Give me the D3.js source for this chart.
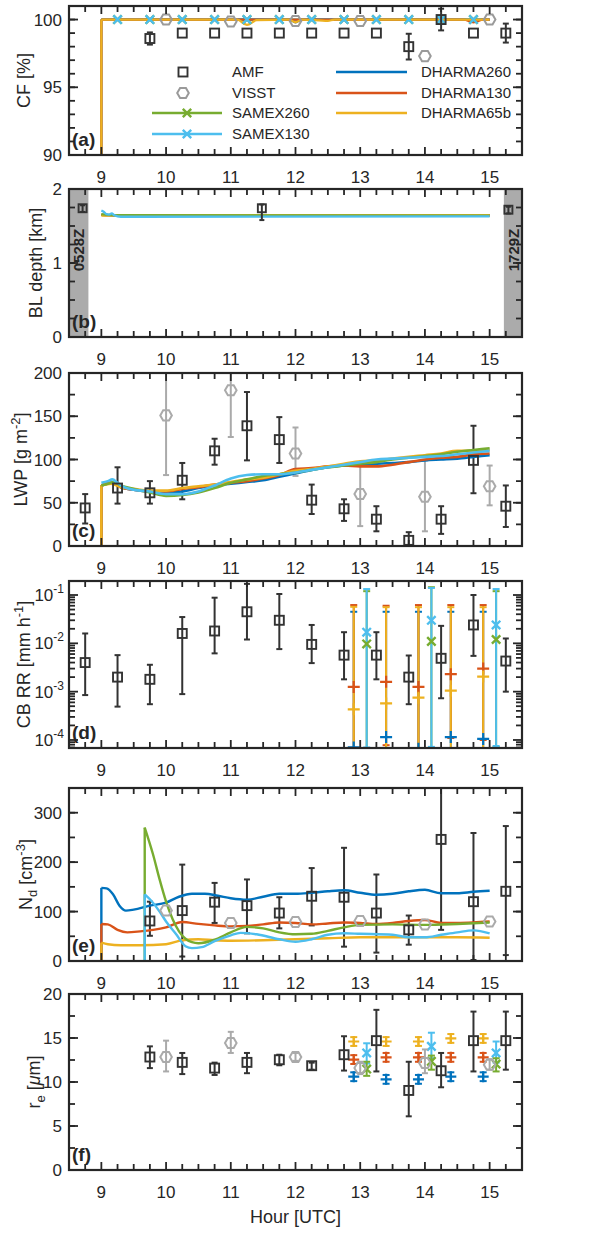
<!DOCTYPE html>
<html><head><meta charset="utf-8">
<script src="https://cdn.jsdelivr.net/npm/d3@7"></script>
<style>
body{margin:0;background:#fff}
svg{display:block}
text{font-family:"Liberation Sans",Arial,Helvetica,sans-serif;fill:#262626}
</style></head>
<body><svg id="c" width="605" height="1233"></svg>
<script>
// ---------------- DATA ----------------
const hourTicks = [9,10,11,12,13,14,15];
const seriesNames = ["AMF","VISST","SAMEX260","SAMEX130","DHARMA260","DHARMA130","DHARMA65b"];
const seriesColors = ["#333333","#9a9a9a","#77AC30","#4DBEEE","#0072BD","#D95319","#EDB120"];

// (a) cloud fraction
const cfTicks = [90,95,100];
const cfAmfT = [9.75,10.25,10.75,11.25,11.75,12.25,12.75,13.25,13.75,14.25,14.75,15.25];
const cfAmf = [98.6,99,99,99,99,99,99,99,98.0,100,99,99];
const cfAmfErr = [0.45,0.1,0.1,0.1,0.1,0.1,0.1,0.1,0.95,0.8,0.1,0.7];
const cfVisstT = [10,11,12,13,14,15];
const cfVisst = [100,99.85,99.9,99.9,97.3,100];
const cfMarkT = [9.25,9.75,10.25,10.75,11.25,11.75,12.25,12.75,13.25,13.75,14.25,14.75];
const cfD260 = [[9,90],[9,100],[11.9,100],[12,99.8],[12.1,100],[15,100]];
const cfD130 = [[9,90],[9,100],[14.6,100],[14.75,99.8],[14.9,100],[15,100]];
const cfD65 = [[9,90],[9,100],[11.1,100],[11.25,99.6],[11.4,99.95],[11.9,100],[12,99.8],[12.1,100],[12.5,99.9],[12.6,100],[15,100]];
const cfS260 = [[9,100],[15,100]];
const cfS130 = [[9,100],[15,100]];

// (b) BL depth
const blTicks = [0,1,2];
const blShade = [[8.5,8.8],[15.22,15.5]];
const blShadeLabels = ["0528Z","1729Z"];
const blAmfT = [8.71,11.48,15.29];
const blAmf = [1.74,1.74,1.72];
const blAmfHi = [1.78,1.79,1.76];
const blAmfLo = [1.69,1.58,1.67];
const blD260 = [[9,1.65],[9.2,1.645],[15,1.645]];
const blD130 = [[9,1.65],[9.2,1.645],[15,1.645]];
const blD65 = [[9,1.64],[9.2,1.645],[15,1.645]];
const blS260 = [[9,1.66],[9.2,1.645],[15,1.64]];
const blS130 = [[9,1.71],[9.04,1.69],[9.08,1.66],[9.12,1.655],[9.16,1.67],[9.2,1.645],[9.3,1.625],[9.6,1.625],[15,1.63]];

// (c) LWP
const lwpTicks = [0,50,100,150,200];
const amfT = [8.75,9.25,9.75,10.25,10.75,11.25,11.75,12.25,12.75,13.25,13.75,14.25,14.75,15.25];
const lwpAmf = [44,67,61.5,76,110,139,123,53,43,31,6.5,31,99,46];
const lwpAmfHi = [60,91,75,96,124,178,149,71,54,46,16,46,139,70];
const lwpAmfLo = [26,49,49,54,94,99,96,37,29,17,0,14,61,22];
const visstT = [10,11,12,13,14,15];
const lwpVisst = [151,180,107,60,57,69];
const lwpVisstHi = [220,235,137,97,99,93];
const lwpVisstLo = [82,126,81,23,17,47];
const lwpD260 = [[9,0],[9,70],[9.15,73],[9.3,68],[9.5,65],[9.75,63],[10,62],[10.25,63],[10.5,67],[10.75,70],[11,72],[11.25,74],[11.5,76],[11.75,80],[12,84],[12.25,88],[12.5,91],[12.75,93],[13,94],[13.25,95],[13.5,96],[13.75,97],[14,99],[14.25,100],[14.5,101],[14.75,103],[15,105]];
const lwpD130 = [[9,0],[9,70],[9.15,73],[9.3,68],[9.5,65],[9.75,63],[10,63],[10.25,66],[10.5,68],[10.75,71],[11,73],[11.25,75],[11.5,78],[11.75,82],[12,89],[12.25,90],[12.5,92],[12.75,93],[13,92],[13.25,92],[13.5,94],[13.75,97],[14,100],[14.25,102],[14.5,103],[14.75,106],[15,107]];
const lwpD65 = [[9,0],[9,70],[9.15,72],[9.3,68],[9.5,66],[9.75,64],[10,64],[10.25,67],[10.5,69],[10.75,71],[11,74],[11.25,77],[11.5,79],[11.75,83],[12,87],[12.25,89],[12.5,92],[12.75,95],[13,98],[13.25,99],[13.5,101],[13.75,103],[14,105],[14.25,107],[14.5,110],[14.75,110],[15,111]];
const lwpS260 = [[9,70],[9.1,72],[9.2,74],[9.3,70],[9.5,66],[9.75,62],[10,58],[10.25,59],[10.5,62],[10.75,67],[11,73],[11.25,77],[11.5,81],[11.75,83],[12,85],[12.25,88],[12.5,91],[12.75,93],[13,95],[13.25,97],[13.5,100],[13.75,102],[14,104],[14.25,106],[14.5,109],[14.75,111],[15,113]];
const lwpS130 = [[9,73],[9.1,75],[9.17,77],[9.25,73],[9.35,68],[9.5,65],[9.75,63],[10,60],[10.25,60],[10.5,63],[10.75,70],[11,78],[11.25,82],[11.5,83],[11.75,83],[12,85],[12.25,88],[12.5,91],[12.75,94],[13,97],[13.25,100],[13.5,101],[13.75,102],[14,103],[14.25,104],[14.5,106],[14.75,108],[15,110]];

// (d) cloud-base rain rate
const rrTickExps = [-4,-3,-2,-1];
const rrAmf = [4.0e-3,2.0e-3,1.8e-3,1.6e-2,1.8e-2,4.5e-2,3.0e-2,9.5e-3,5.7e-3,5.7e-3,2.0e-3,4.9e-3,2.4e-2,4.3e-3];
const rrAmfHi = [1.6e-2,5.7e-3,3.6e-3,3.5e-2,8.8e-2,1.7e-1,1.05e-1,2.4e-2,1.7e-2,1.7e-2,5.6e-3,2.3e-2,1.0e-1,1.26e-2];
const rrAmfLo = [8.5e-4,4.9e-4,5.5e-4,8.9e-4,6.2e-3,1.2e-2,7.6e-3,3.9e-3,1.8e-3,1.8e-3,5.5e-4,7.3e-4,5.5e-3,1.0e-3];
const dharmaT = [12.9,13.4,13.9,14.4,14.9];
const rrD260 = [7.0e-5,1.15e-4,6.6e-5,1.15e-4,1.05e-4];
const rrD260Hi = [4.5e-2,4.5e-2,4.5e-2,4.5e-2,4.5e-2];
const rrD260Lo = [1e-6,1e-6,1e-6,1e-6,1e-6];
const rrD130 = [1.25e-3,1.6e-3,1.25e-3,2.3e-3,3.0e-3];
const rrD130Hi = [6.2e-2,6.0e-2,6.2e-2,6.2e-2,6.2e-2];
const rrD130Lo = [4e-5,7.8e-5,4e-5,1.1e-4,1.0e-4];
const rrD65 = [4.3e-4,5.7e-4,7.5e-4,1.05e-3,2.05e-3];
const rrD65Hi = [5.7e-2,5.6e-2,5.6e-2,5.6e-2,5.6e-2];
const rrD65Lo = [1e-6,1e-6,1e-6,1e-6,1e-6];
const samexT = [13.1,14.1,15.1];
const rrS260 = [9.7e-3,1.1e-2,1.2e-2];
const rrS260Hi = [0.12,0.145,0.12];
const rrS260Lo = [6.8e-5,1e-6,7.2e-5];
const rrS130 = [1.7e-2,3.0e-2,2.4e-2];
const rrS130Hi = [0.133,0.14,0.133];
const rrS130Lo = [7.0e-5,7.2e-5,7.5e-5];

// (e) droplet number
const ndTicks = [0,100,200,300];
const ndAmfT = [9.75,10.25,10.75,11.25,11.75,12.25,12.75,13.25,13.75,14.25,14.75,15.25];
const ndAmf = [81,102,119,112,97,131,129,97,63,246,120,141];
const ndAmfHi = [120,195,158,165,129,188,229,175,92,430,259,273];
const ndAmfLo = [51,9,77,56,66,72,29,17,33,63,2,12];
const ndVisst = [102,77,79,81,74,80];
const ndD260 = [[9,0],[9,148],[9.08,147],[9.18,135],[9.28,112],[9.38,102],[9.5,104],[9.75,112],[10,118],[10.2,130],[10.4,136],[10.6,136],[10.8,132],[11,127],[11.25,124],[11.5,130],[11.75,136],[12,136],[12.25,138],[12.5,141],[12.75,143],[13,138],[13.25,134],[13.5,136],[13.75,141],[14,144],[14.25,137],[14.5,137],[14.75,140],[15,142]];
const ndD130 = [[9,0],[9,75],[9.1,74],[9.25,63],[9.4,58],[9.6,60],[9.8,63],[10,68],[10.25,79],[10.5,75],[10.75,72],[11,70],[11.25,71],[11.5,74],[11.75,78],[12,77],[12.25,74],[12.5,76],[12.75,78],[13,77],[13.25,75],[13.5,77],[13.75,81],[14,83],[14.25,77],[14.5,77],[14.75,78],[15,80]];
const ndD65 = [[9,0],[9,37],[9.1,34],[9.3,32],[9.6,32],[10,34],[10.25,42],[10.5,44],[10.75,42],[11,41],[11.5,42],[12,44],[12.5,46],[13,48],[13.5,48],[14,48],[14.5,48],[15,47]];
const ndS260 = [[9.67,0],[9.67,270],[9.8,215],[9.9,165],[10,120],[10.1,85],[10.2,60],[10.3,45],[10.4,38],[10.5,36],[10.75,43],[11,58],[11.25,69],[11.5,66],[11.75,58],[12,54],[12.25,55],[12.5,61],[12.75,68],[13,73],[13.5,74],[14,73],[14.5,75],[15,78]];
const ndS130 = [[9.67,0],[9.67,135],[9.75,125],[9.9,100],[10,80],[10.15,55],[10.3,30],[10.4,26],[10.55,28],[10.75,40],[11,52],[11.15,57],[11.4,54],[11.75,44],[12,39],[12.25,44],[12.5,53],[12.75,56],[13,55],[13.5,53],[13.75,48],[14,48],[14.25,53],[14.5,58],[14.75,62],[15,56]];

// (f) effective radius
const reTicks = [0,5,10,15,20];
const reAmf = [12.84,12.23,11.58,12.23,12.53,11.85,13.1,14.7,9.04,11.28,14.7,14.7];
const reAmfHi = [14.05,13.3,12.2,13.3,13.1,12.2,15.2,18.2,12.3,13.3,18.0,18.0];
const reAmfLo = [11.58,10.9,10.8,11.0,11.9,11.4,11.3,11.2,6.1,9.4,11.2,11.4];
const reVisst = [12.84,14.43,12.84,11.58,12.15,11.96];
const reVisstHi = [14.7,15.7,13.3,12.3,13.7,12.6];
const reVisstLo = [11.2,13.3,12.4,10.9,11.0,11.4];
const reD65 = [14.6,14.6,14.6,14.95,14.95];
const reD130 = [12.55,12.8,12.8,12.8,12.8];
const reD260 = [10.6,10.3,10.3,10.6,10.6];
const reDErr = [0.5,0.5,0.5,0.5,0.5];
const reS130 = [13.3,14.05,13.3];
const reS130Hi = [14.4,15.6,14.6];
const reS130Lo = [12.1,12.7,12.2];
const reS260 = [11.47,12.34,12.04];
const reS260Hi = [12.3,13.0,12.7];
const reS260Lo = [10.7,11.4,11.2];

// ---------------- DRAWING ----------------
const C = {}; seriesNames.forEach((n,i)=>C[n]=seriesColors[i]);
const svg = d3.select("#c");
const X0 = 69, X1 = 522;
const x = d3.scaleLinear().domain([8.5,15.5]).range([X0,X1]);
const AX = "#262626";

const panels = {
  a:{top:6,bottom:155,y:d3.scaleLinear().domain([90,101]).range([155,6]),major:cfTicks,minor:d3.range(90,101.001,1),lx:24},
  b:{top:189,bottom:337,y:d3.scaleLinear().domain([0,2]).range([337,189]),major:blTicks,minor:d3.range(0,2.001,0.25),lx:36},
  c:{top:373,bottom:546,y:d3.scaleLinear().domain([0,200]).range([546,373]),major:lwpTicks,minor:d3.range(0,200.1,25),lx:21},
  d:{top:581,bottom:748,y:d3.scaleLog().domain([Math.pow(10,-4.166),Math.pow(10,-0.71)]).range([748,581]),log:true,lx:24},
  e:{top:788,bottom:961,y:d3.scaleLinear().domain([0,350]).range([961,788]),major:ndTicks,minor:d3.range(0,350.1,50),lx:26},
  f:{top:994,bottom:1170,y:d3.scaleLinear().domain([0,20]).range([1170,994]),major:reTicks,minor:d3.range(0,20.01,2.5),lx:34}
};

const defs = svg.append("defs");
Object.entries(panels).forEach(([k,p])=>{
  defs.append("clipPath").attr("id","clip-"+k).append("rect")
    .attr("x",X0).attr("y",p.top).attr("width",X1-X0).attr("height",p.bottom-p.top);
  p.g = svg.append("g");
  p.data = p.g.append("g").attr("clip-path",`url(#clip-${k})`);
});

function drawLine(g, pts, y, color, w=2.3){
  let rest = pts;
  if(pts.length>1 && pts[0][0]===pts[1][0]){
    g.append("line").attr("x1",x(pts[0][0])).attr("x2",x(pts[1][0]))
      .attr("y1",y(pts[0][1])).attr("y2",y(pts[1][1]))
      .attr("stroke",color).attr("stroke-width",w);
    rest = pts.slice(1);
  }
  const ln = d3.line().x(d=>x(d[0])).y(d=>y(d[1])).curve(d3.curveMonotoneX);
  g.append("path").attr("d",ln(rest)).attr("fill","none").attr("stroke",color)
    .attr("stroke-width",w).attr("stroke-linejoin","round");
}
function errBar(g, t, lo, hi, y, color, cap=3, w=2){
  const xx = x(t);
  g.append("line").attr("x1",xx).attr("x2",xx).attr("y1",y(lo)).attr("y2",y(hi))
    .attr("stroke",color).attr("stroke-width",w);
  [lo,hi].forEach(v=>g.append("line").attr("x1",xx-cap).attr("x2",xx+cap)
    .attr("y1",y(v)).attr("y2",y(v)).attr("stroke",color).attr("stroke-width",w));
}
function square(g, cx, cy, color, s=9){
  g.append("rect").attr("x",cx-s/2).attr("y",cy-s/2).attr("width",s).attr("height",s)
    .attr("fill","none").attr("stroke",color).attr("stroke-width",1.9);
}
function hexagon(g, cx, cy, color, r=5.8){
  const pts = d3.range(6).map(i=>{const a=i*Math.PI/3;return [cx+r*Math.cos(a),cy+r*Math.sin(a)];});
  g.append("polygon").attr("points",pts.map(p=>p.join(",")).join(" "))
    .attr("fill","none").attr("stroke",color).attr("stroke-width",2);
}
function plus(g, cx, cy, color, s=6){
  g.append("path").attr("d",`M${cx-s},${cy}H${cx+s}M${cx},${cy-s}V${cy+s}`)
    .attr("stroke",color).attr("stroke-width",2.2).attr("fill","none");
}
function cross(g, cx, cy, color, s=4.2){
  g.append("path").attr("d",`M${cx-s},${cy-s}L${cx+s},${cy+s}M${cx-s},${cy+s}L${cx+s},${cy-s}`)
    .attr("stroke",color).attr("stroke-width",2.4).attr("fill","none");
}

// ---------- panel a ----------
{
  const p = panels.a, g = p.data, y = p.y;
  [[cfS260,C.SAMEX260],[cfS130,C.SAMEX130],[cfD260,C.DHARMA260],[cfD130,C.DHARMA130],[cfD65,C.DHARMA65b]]
    .forEach(([d,c])=>drawLine(g,d,y,c));
  cfMarkT.forEach(t=>cross(g,x(t),y(100),C.SAMEX260));
  cfMarkT.forEach(t=>cross(g,x(t),y(100),C.SAMEX130));
  cfAmfT.forEach((t,i)=>{ if(cfAmfErr[i]>0.2) errBar(g,t,cfAmf[i]-cfAmfErr[i],cfAmf[i]+cfAmfErr[i],y,C.AMF); square(g,x(t),y(cfAmf[i]),C.AMF);});
  cfVisstT.forEach((t,i)=>hexagon(g,x(t),y(cfVisst[i]),C.VISST));
  // legend
  const L = p.g.append("g");
  const rows=[72,93,113,134];
  square(L,183,rows[0],C.AMF);
  hexagon(L,183,rows[1],C.VISST);
  [[C.SAMEX260,rows[2]],[C.SAMEX130,rows[3]]].forEach(([c,yy])=>{
    L.append("line").attr("x1",152).attr("x2",222).attr("y1",yy).attr("y2",yy).attr("stroke",c).attr("stroke-width",2.3);
    cross(L,187,yy,c);
  });
  ["AMF","VISST","SAMEX260","SAMEX130"].forEach((n,i)=>L.append("text").attr("x",232).attr("y",rows[i]).attr("dy","0.36em").attr("font-size",15).text(n));
  ["DHARMA260","DHARMA130","DHARMA65b"].forEach((n,i)=>{
    L.append("line").attr("x1",336).attr("x2",407).attr("y1",rows[i]).attr("y2",rows[i]).attr("stroke",C[n]).attr("stroke-width",2.3);
    L.append("text").attr("x",421).attr("y",rows[i]).attr("dy","0.36em").attr("font-size",15).text(n);
  });
}
// ---------- panel b ----------
{
  const p = panels.b, g = p.data, y = p.y;
  blShade.forEach((s,i)=>{
    g.append("rect").attr("x",x(s[0])).attr("y",p.top).attr("width",x(s[1])-x(s[0])).attr("height",p.bottom-p.top).attr("fill","#ababab");
  });
  [[blD260,C.DHARMA260],[blD130,C.DHARMA130],[blD65,C.DHARMA65b],[blS260,C.SAMEX260],[blS130,C.SAMEX130]]
    .forEach(([d,c])=>drawLine(g,d,y,c));
  blAmfT.forEach((t,i)=>{errBar(g,t,blAmfLo[i],blAmfHi[i],y,C.AMF,2.5); square(g,x(t),y(blAmf[i]),C.AMF,8);});
  blShade.forEach((s,i)=>{
    const cx = (x(s[0])+x(s[1]))/2 + (i===0?-0.5:1);
    p.g.append("text").attr("transform",`translate(${cx},250) rotate(-90)`).attr("text-anchor","middle")
      .attr("dy","0.36em").attr("font-size",15).attr("font-weight","bold").text(blShadeLabels[i]);
  });
}
// ---------- panel c ----------
{
  const p = panels.c, g = p.data, y = p.y;
  amfT.forEach((t,i)=>{errBar(g,t,lwpAmfLo[i],lwpAmfHi[i],y,C.AMF);});
  visstT.forEach((t,i)=>{errBar(g,t,lwpVisstLo[i],lwpVisstHi[i],y,"#aaaaaa");});
  [[lwpD260,C.DHARMA260],[lwpD130,C.DHARMA130],[lwpD65,C.DHARMA65b],[lwpS260,C.SAMEX260],[lwpS130,C.SAMEX130]]
    .forEach(([d,c])=>drawLine(g,d,y,c,2.6));
  amfT.forEach((t,i)=>square(g,x(t),y(lwpAmf[i]),C.AMF));
  visstT.forEach((t,i)=>hexagon(g,x(t),y(lwpVisst[i]),"#aaaaaa"));
}
// ---------- panel d ----------
{
  const p = panels.d, g = p.data, y = p.y;
  amfT.forEach((t,i)=>{errBar(g,t,rrAmfLo[i],rrAmfHi[i],y,C.AMF); square(g,x(t),y(rrAmf[i]),C.AMF,9);});
  [[rrD260,rrD260Lo,rrD260Hi,C.DHARMA260],[rrD130,rrD130Lo,rrD130Hi,C.DHARMA130],[rrD65,rrD65Lo,rrD65Hi,C.DHARMA65b]]
    .forEach(([v,lo,hi,c])=>dharmaT.forEach((t,i)=>errBar(g,t,lo[i],hi[i],y,c,3.5)));
  [[rrD260,C.DHARMA260],[rrD130,C.DHARMA130],[rrD65,C.DHARMA65b]]
    .forEach(([v,c])=>dharmaT.forEach((t,i)=>plus(g,x(t),y(v[i]),c)));
  [[rrS260,rrS260Lo,rrS260Hi,C.SAMEX260],[rrS130,rrS130Lo,rrS130Hi,C.SAMEX130]]
    .forEach(([v,lo,hi,c])=>samexT.forEach((t,i)=>errBar(g,t,lo[i],hi[i],y,c,3.5)));
  [[rrS260,C.SAMEX260],[rrS130,C.SAMEX130]]
    .forEach(([v,c])=>samexT.forEach((t,i)=>cross(g,x(t),y(v[i]),c)));
}
// ---------- panel e ----------
{
  const p = panels.e, g = p.data, y = p.y;
  ndAmfT.forEach((t,i)=>errBar(g,t,ndAmfLo[i],ndAmfHi[i],y,C.AMF));
  [[ndD260,C.DHARMA260],[ndD130,C.DHARMA130],[ndD65,C.DHARMA65b],[ndS260,C.SAMEX260],[ndS130,C.SAMEX130]]
    .forEach(([d,c])=>drawLine(g,d,y,c,2.4));
  ndAmfT.forEach((t,i)=>square(g,x(t),y(ndAmf[i]),C.AMF,9));
  visstT.forEach((t,i)=>hexagon(g,x(t),y(ndVisst[i]),"#aaaaaa"));
}
// ---------- panel f ----------
{
  const p = panels.f, g = p.data, y = p.y;
  [[reD65,C.DHARMA65b],[reD130,C.DHARMA130],[reD260,C.DHARMA260]].forEach(([v,c])=>dharmaT.forEach((t,i)=>{
    errBar(g,t,v[i]-reDErr[i],v[i]+reDErr[i],y,c,3.5); plus(g,x(t),y(v[i]),c,5.5);}));
  [[reS130,reS130Lo,reS130Hi,C.SAMEX130],[reS260,reS260Lo,reS260Hi,C.SAMEX260]].forEach(([v,lo,hi,c])=>samexT.forEach((t,i)=>{
    errBar(g,t,lo[i],hi[i],y,c,3.5); cross(g,x(t),y(v[i]),c);}));
  ndAmfT.forEach((t,i)=>{errBar(g,t,reAmfLo[i],reAmfHi[i],y,C.AMF); square(g,x(t),y(reAmf[i]),C.AMF,9);});
  visstT.forEach((t,i)=>{errBar(g,t,reVisstLo[i],reVisstHi[i],y,"#aaaaaa"); hexagon(g,x(t),y(reVisst[i]),"#aaaaaa");});
}

// ---------- axes, ticks, labels ----------
const xMinor = d3.range(8.5,15.501,0.25);
const yLabels = {
  a: t=>t.text("CF [%]"),
  b: t=>t.text("BL depth [km]"),
  c: t=>{t.append("tspan").text("LWP [g m");t.append("tspan").attr("dy",-7).attr("font-size",13).text("-2");t.append("tspan").attr("dy",7).text("]");},
  d: t=>{t.append("tspan").text("CB RR [mm h");t.append("tspan").attr("dy",-7).attr("font-size",13).text("-1");t.append("tspan").attr("dy",7).text("]");},
  e: t=>{t.append("tspan").text("N");t.append("tspan").attr("dy",5).attr("font-size",13).text("d");t.append("tspan").attr("dy",-5).text(" [cm");t.append("tspan").attr("dy",-7).attr("font-size",13).text("-3");t.append("tspan").attr("dy",7).text("]");},
  f: t=>{t.append("tspan").text("r");t.append("tspan").attr("dy",5).attr("font-size",13).text("e");t.append("tspan").attr("dy",-5).text(" [");t.append("tspan").attr("font-style","italic").text("\u03BC");t.append("tspan").text("m]");}
};
const letters = {a:"(a)",b:"(b)",c:"(c)",d:"(d)",e:"(e)",f:"(f)"};

Object.entries(panels).forEach(([k,p])=>{
  const g = p.g.append("g");
  const tk = (x1,y1,x2,y2)=>g.append("line").attr("x1",x1).attr("y1",y1).attr("x2",x2).attr("y2",y2).attr("stroke",AX).attr("stroke-width",1.8);
  xMinor.forEach(h=>{
    const len = Number.isInteger(h)?8:6;
    const xx = x(h);
    tk(xx,p.bottom,xx,p.bottom-len);
    tk(xx,p.top,xx,p.top+len);
  });
  let yMaj, yMin;
  if(p.log){
    yMaj = rrTickExps.map(e=>Math.pow(10,e));
    yMin = [];
    [-5,-4,-3,-2,-1].forEach(e=>d3.range(2,10).forEach(m=>{const v=m*Math.pow(10,e); if(v>=p.y.domain()[0]&&v<=p.y.domain()[1]) yMin.push(v);}));
  } else { yMaj = p.major; yMin = p.minor; }
  yMin.forEach(v=>{const yy=p.y(v); tk(X0,yy,X0+6,yy); tk(X1,yy,X1-6,yy);});
  yMaj.forEach(v=>{const yy=p.y(v); tk(X0,yy,X0+9,yy); tk(X1,yy,X1-9,yy);});
  g.append("rect").attr("x",X0).attr("y",p.top).attr("width",X1-X0).attr("height",p.bottom-p.top)
    .attr("fill","none").attr("stroke",AX).attr("stroke-width",2.2);
  hourTicks.forEach(h=>g.append("text").attr("x",x(h)).attr("y",p.bottom+28).attr("text-anchor","middle").attr("font-size",17).text(h));
  if(p.log){
    rrTickExps.forEach(e=>{
      const t = g.append("text").attr("x",64).attr("y",p.y(Math.pow(10,e))).attr("dy","0.36em").attr("text-anchor","end").attr("font-size",17);
      t.append("tspan").text("10");
      t.append("tspan").attr("dy",-8).attr("font-size",12).text("-"+(-e));
    });
  } else {
    p.major.forEach(v=>g.append("text").attr("x",62).attr("y",p.y(v)).attr("dy","0.36em").attr("text-anchor","end").attr("font-size",17).text(v));
  }
  const cy = (p.top+p.bottom)/2;
  const t = g.append("text").attr("transform",`translate(${p.lx},${cy}) rotate(-90)`).attr("text-anchor","middle").attr("font-size",18).attr("dy","0.36em");
  yLabels[k](t);
  g.append("text").attr("x",72).attr("y",p.bottom-9).attr("font-size",19).attr("font-weight","bold").text(letters[k]);
});

svg.append("text").attr("x",(X0+X1)/2).attr("y",1223).attr("text-anchor","middle").attr("font-size",18).text("Hour [UTC]");
</script>
</body></html>
